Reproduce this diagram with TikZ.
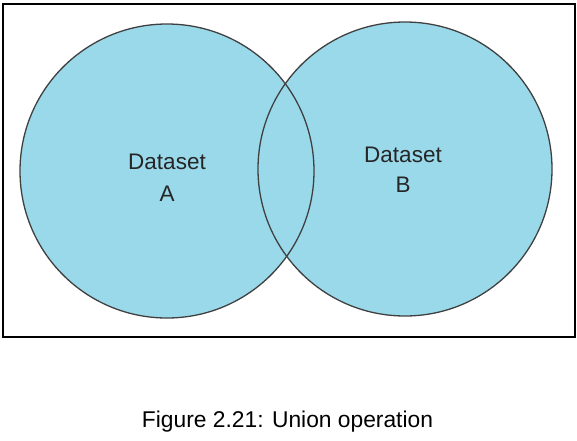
\documentclass[tikz,border=0pt]{standalone}
\usepackage{fontspec}
\setmainfont{Liberation Sans}
\definecolor{setfill}{HTML}{99D9EA}
\definecolor{setline}{HTML}{404040}
\begin{document}
\begin{tikzpicture}[x=1pt,y=-1pt,
  setcirc/.style={circle,minimum size=294pt,inner sep=0pt,fill=setfill},
  setedge/.style={circle,minimum size=294pt,inner sep=0pt,draw=setline,line width=1.3pt},
  lbl/.style={anchor=base,inner sep=0pt,font=\fontsize{22.5}{26}\selectfont,text=black!85},
  captionstyle/.style={anchor=base,inner sep=0pt,font=\fontsize{22.8}{26}\selectfont}]
\useasboundingbox (0,0) rectangle (577,440);
\node[draw=black,line width=2.6pt,minimum width=572pt,minimum height=333pt,inner sep=0pt] (frame) at (289,170.5) {};
\node[setcirc] (A) at (167,171) {};
\node[setcirc] (B) at (405,169) {};
\node[setedge] (Ae) at (167,171) {};
\node[setedge] (Be) at (405,169) {};
\node[lbl] (a1) at (167,169) {Dataset};
\node[lbl] (a2) at (167,201) {A};
\node[lbl] (b1) at (403,162) {Dataset};
\node[lbl] (b2) at (403,192) {B};
\node[captionstyle] (caption) at (287.5,427) {Figure 2.21: Union operation};
\end{tikzpicture}
\end{document}
